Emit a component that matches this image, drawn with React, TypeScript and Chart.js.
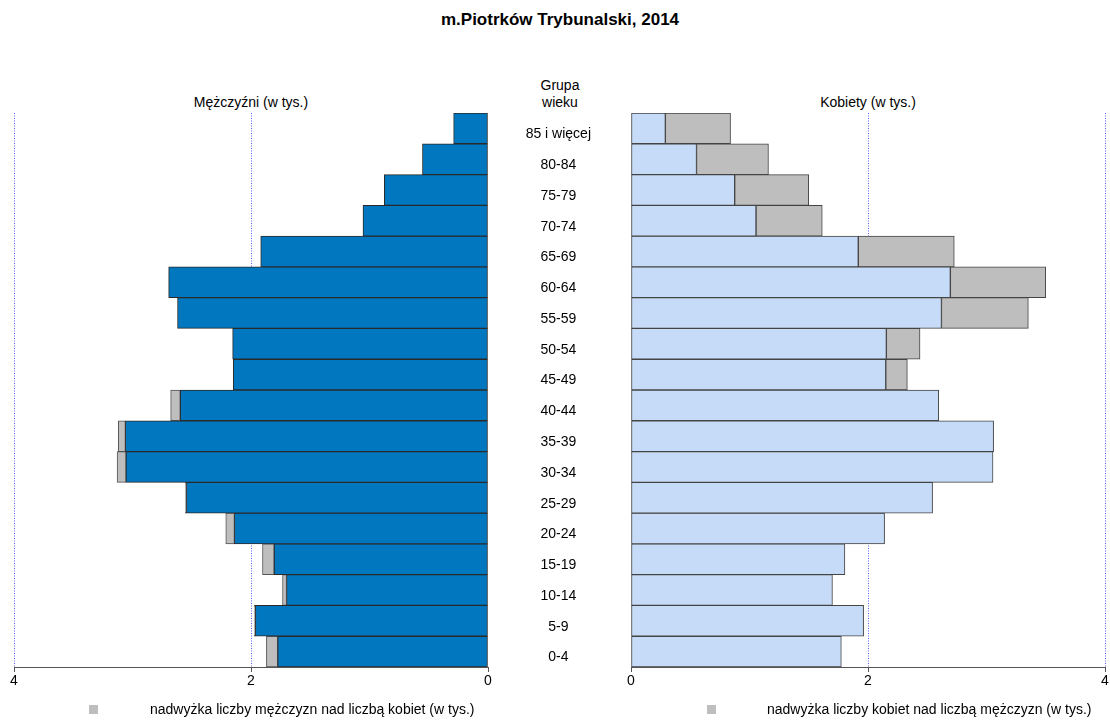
import React, { useEffect, useRef } from "react";
import { Chart, registerables } from "chart.js";

Chart.register(...registerables);

const ageGroups = ["0-4", "5-9", "10-14", "15-19", "20-24", "25-29", "30-34", "35-39", "40-44", "45-49", "50-54", "55-59", "60-64", "65-69", "70-74", "75-79", "80-84", "85 i więcej"];
const menValues = [1.87, 1.972, 1.734, 1.903, 2.213, 2.554, 3.13, 3.12, 2.678, 2.15, 2.155, 2.62, 2.695, 1.918, 1.055, 0.875, 0.553, 0.29];
const womenValues = [1.775, 1.963, 1.7, 1.805, 2.14, 2.545, 3.055, 3.06, 2.597, 2.332, 2.439, 3.353, 3.5, 2.728, 1.614, 1.5, 1.16, 0.84];
const xTickValues = [0, 2, 4];

const titleText = "m.Piotrków Trybunalski, 2014";
const menAxisTitle = "Mężczyźni (w tys.)";
const womenAxisTitle = "Kobiety (w tys.)";
const ageHeader = ["Grupa", "wieku"];
const menLegend = "nadwyżka liczby mężczyzn nad liczbą kobiet (w tys.)";
const womenLegend = "nadwyżka liczby kobiet nad liczbą mężczyzn (w tys.)";

const FONT = "'Liberation Sans', Arial, sans-serif";
const MEN_COLOR = "#0077BE";
const WOMEN_COLOR = "#C6DBF7";
const EXCESS_COLOR = "#BEBEBE";
const GRID_COLOR = "#5a5aff";

function xScale(reverse: boolean) {
  return {
    type: "linear",
    min: 0,
    max: 4,
    reverse,
    stacked: true,
    afterBuildTicks: (s: any) => {
      s.ticks = xTickValues.map((v) => ({ value: v }));
    },
    afterFit: (s: any) => {
      s.height = 30;
    },
    ticks: { font: { family: FONT, size: 14 }, color: "#000", padding: 1, maxRotation: 0, autoSkip: false },
    grid: {
      color: (c: any) => (c.tick && c.tick.value === 0 ? "rgba(0,0,0,0)" : GRID_COLOR),
      lineWidth: 1,
      tickColor: "#555",
      tickLength: 5,
      tickBorderDash: [],
      drawTicks: true,
    },
    border: { display: true, color: "#555", width: 1, dash: [1, 1.5] },
  };
}

export default function App() {
  const leftRef = useRef<HTMLCanvasElement>(null);
  const rightRef = useRef<HTMLCanvasElement>(null);

  useEffect(() => {
    const common = menValues.map((m, i) => Math.min(m, womenValues[i]));
    const menExcess = menValues.map((m, i) => (m > womenValues[i] ? m - womenValues[i] : null));
    const womenExcess = womenValues.map((w, i) => (w > menValues[i] ? w - menValues[i] : null));

    const barBase = {
      barPercentage: 1,
      categoryPercentage: 1,
      borderWidth: 1,
      borderSkipped: false,
      stack: "s",
    };

    const left = new Chart(leftRef.current as HTMLCanvasElement, {
      type: "bar",
      data: {
        labels: ageGroups,
        datasets: [
          { ...barBase, label: "Mężczyźni", data: common, backgroundColor: MEN_COLOR, borderColor: "#2a2a2a" },
          { ...barBase, label: menLegend, data: menExcess, backgroundColor: EXCESS_COLOR, borderColor: "#555" },
        ],
      } as any,
      options: {
        indexAxis: "y",
        responsive: false,
        animation: false,
        layout: { padding: { left: 14, right: 14, top: 113, bottom: 23 } },
        plugins: { legend: { display: false }, tooltip: { enabled: false }, title: { display: false } },
        scales: {
          x: xScale(true),
          y: { type: "category", reverse: true, stacked: true, display: false },
        },
      } as any,
    });

    const right = new Chart(rightRef.current as HTMLCanvasElement, {
      type: "bar",
      data: {
        labels: ageGroups,
        datasets: [
          { ...barBase, label: "Kobiety", data: common, backgroundColor: WOMEN_COLOR, borderColor: "#444" },
          { ...barBase, label: womenLegend, data: womenExcess, backgroundColor: EXCESS_COLOR, borderColor: "#444" },
        ],
      } as any,
      options: {
        indexAxis: "y",
        responsive: false,
        animation: false,
        layout: { padding: { left: 0, right: 5, top: 113, bottom: 23 } },
        plugins: { legend: { display: false }, tooltip: { enabled: false }, title: { display: false } },
        scales: {
          x: xScale(false),
          y: {
            type: "category",
            reverse: true,
            stacked: true,
            afterFit: (s: any) => {
              s.width = 142;
            },
            grid: { display: false, drawTicks: false },
            border: { display: false },
            ticks: {
              font: { family: FONT, size: 14 },
              color: "#000",
              crossAlign: "center",
              padding: 40,
              labelOffset: 6,
              autoSkip: false,
            },
          },
        },
      } as any,
    });

    return () => {
      left.destroy();
      right.destroy();
    };
  }, []);

  const text = (extra: any) => ({ position: "absolute" as const, whiteSpace: "nowrap" as const, fontFamily: FONT, color: "#000", ...extra });

  return (
    <div style={{ position: "absolute", left: 0, top: 0, width: 1110, height: 720, background: "#fff", overflow: "hidden" }}>
      <div style={text({ left: 0, top: 10, width: 1120, textAlign: "center", fontWeight: "bold", fontSize: 17, lineHeight: "20px" })}>{titleText}</div>
      <div style={text({ left: 460, top: 77, width: 200, textAlign: "center", fontSize: 14, lineHeight: "17px" })}>
        {ageHeader[0]}
        <br />
        {ageHeader[1]}
      </div>
      <div style={text({ left: 151, top: 94, width: 200, textAlign: "center", fontSize: 14, lineHeight: "16px" })}>{menAxisTitle}</div>
      <div style={text({ left: 768, top: 94, width: 200, textAlign: "center", fontSize: 14, lineHeight: "16px" })}>{womenAxisTitle}</div>
      <canvas ref={leftRef} width={502} height={720} style={{ position: "absolute", left: 0, top: 0 }} />
      <canvas ref={rightRef} width={621} height={720} style={{ position: "absolute", left: 489, top: 0 }} />
      <div style={{ position: "absolute", left: 89, top: 705, width: 9, height: 9, background: EXCESS_COLOR }} />
      <div style={text({ left: 150, top: 701, fontSize: 14, lineHeight: "16px" })}>{menLegend}</div>
      <div style={{ position: "absolute", left: 707, top: 705, width: 9, height: 9, background: EXCESS_COLOR }} />
      <div style={text({ left: 767, top: 701, fontSize: 14, lineHeight: "16px" })}>{womenLegend}</div>
    </div>
  );
}
